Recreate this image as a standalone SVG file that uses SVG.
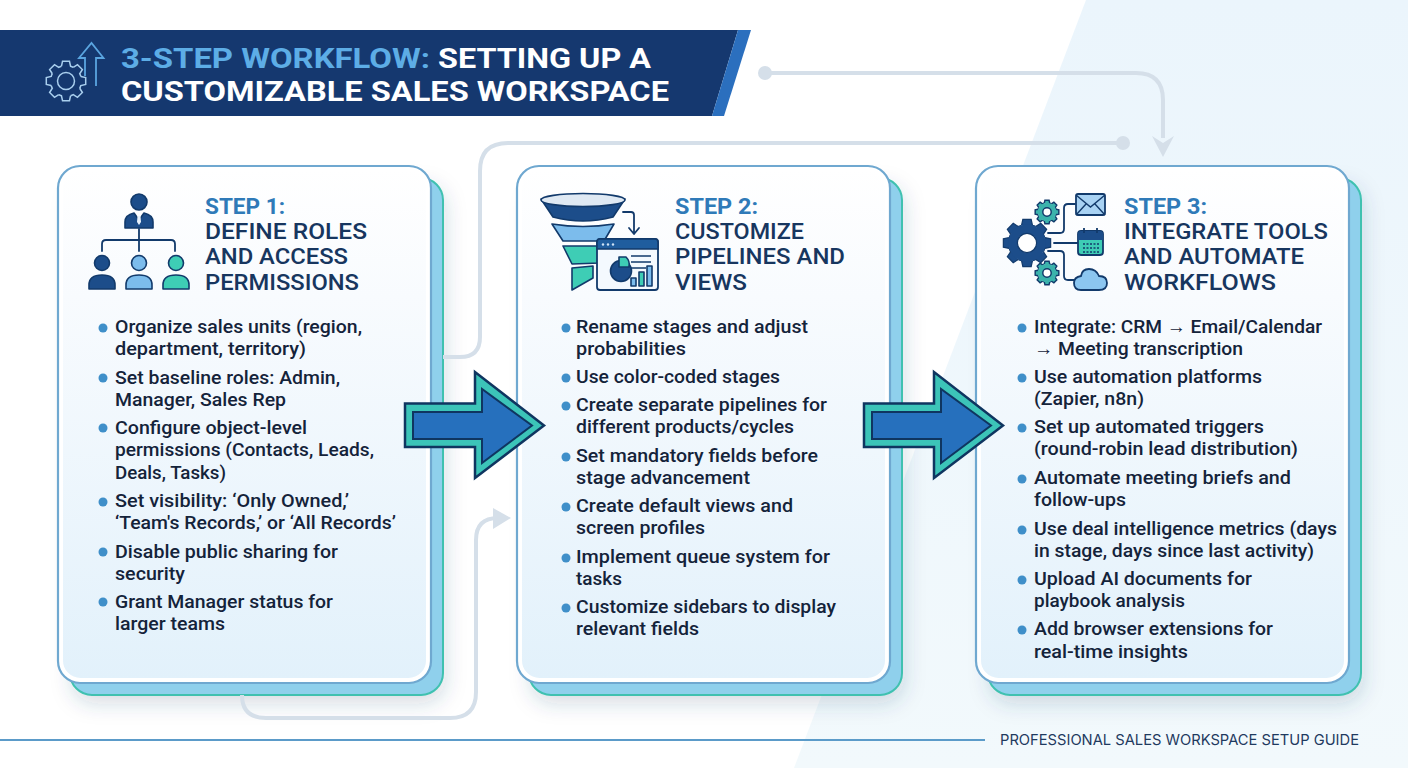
<svg xmlns="http://www.w3.org/2000/svg" xmlns:xlink="http://www.w3.org/1999/xlink" width="1408" height="768" viewBox="0 0 1408 768">
<style>
.b{font-family:Roboto,"Liberation Sans",sans-serif;font-size:18.7px;font-weight:500;fill:#14233a}
.st{font-family:Roboto,"Liberation Sans",sans-serif;font-size:22.5px;font-weight:700;fill:#2f7ab8}
.tt{font-weight:500;fill:#17365f}
.hd{font-family:Roboto,"Liberation Sans",sans-serif;font-size:28px;font-weight:700}
.ft{font-family:Inter,"Liberation Sans",sans-serif;font-size:14.5px;font-weight:400;fill:#1f3a5f}
.dot{fill:#3f8fc9}
.back{fill:#8fd0ec;stroke:#3fc1b0;stroke-width:2;filter:url(#sh)}
.card{fill:url(#cg);stroke:#fff;stroke-width:5}
.edge{fill:none;stroke:#6fa8d0;stroke-width:2.2}
.cn{fill:none;stroke:#d5dfe9;stroke-width:4}
.cf{fill:#d5dfe9}
.ao{fill:#3cc4b8;stroke:#0f3560;stroke-width:2.5;stroke-linejoin:miter}
.ai{fill:#2670bd;stroke:#0f3560;stroke-width:2}
.ink{stroke:#123a6b;stroke-width:1.6;stroke-linejoin:round}
.nv{fill:#1c4d8a}.lb{fill:#7cbcec}.tl{fill:#3ecdb5}
.ln{fill:none;stroke:#123a6b;stroke-width:1.8;stroke-linecap:round;stroke-linejoin:round}
</style>
<defs>
<linearGradient id="cg" x1="0" y1="0" x2="0" y2="1"><stop offset="0" stop-color="#ffffff"/><stop offset="0.25" stop-color="#f8fbfe"/><stop offset="1" stop-color="#e2f1fb"/></linearGradient>
<linearGradient id="bgp" x1="0" y1="0" x2="0" y2="1"><stop offset="0" stop-color="#ebf5fc"/><stop offset="1" stop-color="#f2f9fc"/></linearGradient>
<filter id="sh" x="-15%" y="-10%" width="130%" height="120%"><feDropShadow dx="2" dy="8" stdDeviation="10" flood-color="#2a4a6a" flood-opacity="0.18"/></filter>
<path id="tooth" d="M14.82 -4.53L19.7 -3.47L19.7 3.47L14.82 4.53A15.5 15.5 0 0 1 13.69 7.28"/>
<g id="gear"><use xlink:href="#tooth"/><use xlink:href="#tooth" transform="rotate(45)"/><use xlink:href="#tooth" transform="rotate(90)"/><use xlink:href="#tooth" transform="rotate(135)"/><use xlink:href="#tooth" transform="rotate(180)"/><use xlink:href="#tooth" transform="rotate(225)"/><use xlink:href="#tooth" transform="rotate(270)"/><use xlink:href="#tooth" transform="rotate(315)"/></g>
</defs>

<rect width="1408" height="768" fill="#ffffff"/>
<polygon points="1086,0 1408,0 1408,768 794,768" fill="url(#bgp)"/>

<g id="header">
<polygon points="0,30 738,30 712,116 0,116" fill="#15386f"/>
<polygon points="738,30 751,30 724,116 712,116" fill="#2b6fbe"/>
<g transform="translate(66 81)" fill="none" stroke="#a9cfee" stroke-width="1.5"><use xlink:href="#gear"/><circle r="8.5"/></g>
<path d="M85 76V58H79L91.5 43L103.5 58H96V86" fill="none" stroke="#5aa5e0" stroke-width="1.8"/>
<text class="hd"><tspan x="121" y="67.500" fill="#5dade6" textLength="309" lengthAdjust="spacingAndGlyphs">3-STEP WORKFLOW:</tspan> <tspan x="438" y="67.500" fill="#ffffff" textLength="213" lengthAdjust="spacingAndGlyphs">SETTING UP A</tspan> <tspan x="121" y="100.500" fill="#ffffff" textLength="548" lengthAdjust="spacingAndGlyphs">CUSTOMIZABLE SALES WORKSPACE</tspan></text>
</g>

<g id="step-1">
<rect class="back" x="70" y="178" width="373" height="517" rx="22"/>
<rect class="card" x="60.5" y="168.5" width="368" height="512" rx="20"/>
<rect class="edge" x="58" y="166" width="373" height="517" rx="22"/>
<g id="icon-roles">
<path class="ln" d="M139 229V251M102 251V244Q102 240 106 240H171Q175 240 175 244V251"/>
<circle class="nv ink" cx="139" cy="202" r="8"/>
<path class="nv ink" d="M125 228V222Q125 215 134 213L139 220L144 213Q153 215 153 222V228Z"/>
<path d="M137.500 216H140.500L141 222L139 225L137 222Z" fill="#e8f2fb"/>
<circle class="nv ink" cx="102" cy="263" r="7.5"/><path class="nv ink" d="M89 289V285Q89 275 102 275Q115 275 115 285V289Z"/>
<circle class="lb ink" cx="139" cy="263" r="7.5"/><path class="lb ink" d="M126 289V285Q126 275 139 275Q152 275 152 285V289Z"/>
<circle class="tl ink" cx="176" cy="263" r="7.5"/><path class="tl ink" d="M163 289V285Q163 275 176 275Q189 275 189 285V289Z"/>
</g>
<text class="st"><tspan x="205" y="214" textLength="80" lengthAdjust="spacingAndGlyphs">STEP 1:</tspan> <tspan class="tt" x="205" y="239" textLength="162" lengthAdjust="spacingAndGlyphs">DEFINE ROLES</tspan> <tspan class="tt" x="205" y="264" textLength="143" lengthAdjust="spacingAndGlyphs">AND ACCESS</tspan> <tspan class="tt" x="205" y="290" textLength="154" lengthAdjust="spacingAndGlyphs">PERMISSIONS</tspan></text>
<circle class="dot" cx="103" cy="328" r="4.5"/><circle class="dot" cx="103" cy="378" r="4.5"/><circle class="dot" cx="103" cy="428" r="4.5"/><circle class="dot" cx="103" cy="502" r="4.5"/><circle class="dot" cx="103" cy="552" r="4.5"/><circle class="dot" cx="103" cy="602" r="4.5"/>
<text class="b"><tspan x="115" y="333" textLength="247" lengthAdjust="spacingAndGlyphs">Organize sales units (region,</tspan> <tspan x="115" y="355" textLength="191" lengthAdjust="spacingAndGlyphs">department, territory)</tspan></text>
<text class="b"><tspan x="115" y="384" textLength="225" lengthAdjust="spacingAndGlyphs">Set baseline roles: Admin,</tspan> <tspan x="115" y="406" textLength="171" lengthAdjust="spacingAndGlyphs">Manager, Sales Rep</tspan></text>
<text class="b"><tspan x="115" y="434" textLength="192" lengthAdjust="spacingAndGlyphs">Configure object-level</tspan> <tspan x="115" y="456" textLength="259" lengthAdjust="spacingAndGlyphs">permissions (Contacts, Leads,</tspan> <tspan x="115" y="479" textLength="111" lengthAdjust="spacingAndGlyphs">Deals, Tasks)</tspan></text>
<text class="b"><tspan x="115" y="507" textLength="234" lengthAdjust="spacingAndGlyphs">Set visibility: ‘Only Owned,’</tspan> <tspan x="115" y="529" textLength="281" lengthAdjust="spacingAndGlyphs">‘Team's Records,’ or ‘All Records’</tspan></text>
<text class="b"><tspan x="115" y="558" textLength="223" lengthAdjust="spacingAndGlyphs">Disable public sharing for</tspan> <tspan x="115" y="580" textLength="70" lengthAdjust="spacingAndGlyphs">security</tspan></text>
<text class="b"><tspan x="115" y="608" textLength="218" lengthAdjust="spacingAndGlyphs">Grant Manager status for</tspan> <tspan x="115" y="630" textLength="110" lengthAdjust="spacingAndGlyphs">larger teams</tspan></text>
</g>

<g id="step-2">
<rect class="back" x="529" y="178" width="373" height="517" rx="22"/>
<rect class="card" x="519.5" y="168.5" width="368" height="512" rx="20"/>
<rect class="edge" x="517" y="166" width="373" height="517" rx="22"/>
<g id="icon-funnel">
<path class="nv ink" d="M541 199L553 217Q583 225 613 217L625 199Z"/>
<ellipse cx="583" cy="200" rx="42" ry="6.5" fill="#dfe9f3" stroke="#123a6b" stroke-width="1.6"/>
<path class="lb ink" d="M552 224Q583 229 614 224L604 241H563Z"/>
<path class="tl ink" d="M563 246H600V263L572 264Z"/>
<path class="tl ink" d="M572 268L593 266V278L572 290Z"/>
<path class="ln" d="M623 212H631Q634 212 634 215V233M629 228L634 234L639 228"/>
<rect x="597" y="239" width="61" height="51" rx="3" fill="#f4f9fe" stroke="#123a6b" stroke-width="1.8"/>
<path d="M597 249V242Q597 239 600 239H655Q658 239 658 242V249Z" fill="#1f5d9e" stroke="#123a6b" stroke-width="1.6"/>
<circle cx="603" cy="244.500" r="1.200" fill="#cfe4f7"/><circle cx="608" cy="244.500" r="1.200" fill="#cfe4f7"/><circle cx="613" cy="244.500" r="1.200" fill="#cfe4f7"/>
<circle class="nv ink" cx="621" cy="271" r="10.500"/>
<path class="tl ink" d="M624 257A11 11 0 0 1 627 267H617V257Z" transform="translate(2 0)"/>
<path d="M631 256H651M631 262H651M631 268H646" fill="none" stroke="#123a6b" stroke-width="1.300"/>
<rect class="lb ink" x="631" y="278" width="5" height="8"/><rect class="tl ink" x="639" y="272" width="5" height="14"/><rect class="lb ink" x="647" y="266" width="5" height="20"/>
</g>
<text class="st"><tspan x="675" y="214" textLength="83" lengthAdjust="spacingAndGlyphs">STEP 2:</tspan> <tspan class="tt" x="675" y="239" textLength="129" lengthAdjust="spacingAndGlyphs">CUSTOMIZE</tspan> <tspan class="tt" x="675" y="264" textLength="170" lengthAdjust="spacingAndGlyphs">PIPELINES AND</tspan> <tspan class="tt" x="675" y="290" textLength="72" lengthAdjust="spacingAndGlyphs">VIEWS</tspan></text>
<circle class="dot" cx="566" cy="328" r="4.5"/><circle class="dot" cx="566" cy="378" r="4.5"/><circle class="dot" cx="566" cy="406" r="4.5"/><circle class="dot" cx="566" cy="457" r="4.5"/><circle class="dot" cx="566" cy="507" r="4.5"/><circle class="dot" cx="566" cy="558" r="4.5"/><circle class="dot" cx="566" cy="608" r="4.5"/>
<text class="b"><tspan x="576" y="333" textLength="232" lengthAdjust="spacingAndGlyphs">Rename stages and adjust</tspan> <tspan x="576" y="355" textLength="110" lengthAdjust="spacingAndGlyphs">probabilities</tspan></text>
<text class="b" x="576" y="383" textLength="204" lengthAdjust="spacingAndGlyphs">Use color-coded stages</text>
<text class="b"><tspan x="576" y="411" textLength="251" lengthAdjust="spacingAndGlyphs">Create separate pipelines for</tspan> <tspan x="576" y="433" textLength="218" lengthAdjust="spacingAndGlyphs">different products/cycles</tspan></text>
<text class="b"><tspan x="576" y="462" textLength="242" lengthAdjust="spacingAndGlyphs">Set mandatory fields before</tspan> <tspan x="576" y="484" textLength="174" lengthAdjust="spacingAndGlyphs">stage advancement</tspan></text>
<text class="b"><tspan x="576" y="512" textLength="217" lengthAdjust="spacingAndGlyphs">Create default views and</tspan> <tspan x="576" y="534" textLength="129" lengthAdjust="spacingAndGlyphs">screen profiles</tspan></text>
<text class="b"><tspan x="576" y="563" textLength="254" lengthAdjust="spacingAndGlyphs">Implement queue system for</tspan> <tspan x="576" y="585" textLength="46" lengthAdjust="spacingAndGlyphs">tasks</tspan></text>
<text class="b"><tspan x="576" y="613" textLength="260" lengthAdjust="spacingAndGlyphs">Customize sidebars to display</tspan> <tspan x="576" y="635" textLength="123" lengthAdjust="spacingAndGlyphs">relevant fields</tspan></text>
</g>

<g id="step-3">
<rect class="back" x="988" y="178" width="373" height="517" rx="22"/>
<rect class="card" x="978.5" y="168.5" width="368" height="512" rx="20"/>
<rect class="edge" x="976" y="166" width="373" height="517" rx="22"/>
<g id="icon-integrate">
<path class="ln" d="M1048 233H1060Q1064 233 1064 229V208Q1064 204 1068 204H1075M1054 243H1078M1048 251H1060Q1064 251 1064 255V276Q1064 280 1068 280H1074"/>
<g transform="translate(1027 243) scale(1.2)" fill="#1c4d8a" stroke="#123a6b" stroke-width="1"><use xlink:href="#gear"/><circle r="15.500" stroke="none"/><circle r="8" fill="#ffffff" stroke="#123a6b"/></g>
<g transform="translate(1047 212) scale(0.6)" fill="#3bb3ac" stroke="#123a6b" stroke-width="2.400"><use xlink:href="#gear"/><circle r="15.500" stroke="none"/><circle r="7" fill="#ffffff"/></g>
<g transform="translate(1047 273) scale(0.6)" fill="#3bb3ac" stroke="#123a6b" stroke-width="2.400"><use xlink:href="#gear"/><circle r="15.500" stroke="none"/><circle r="7" fill="#ffffff"/></g>
<rect x="1076" y="194" width="29" height="21" rx="2" fill="#a8d2f3" stroke="#123a6b" stroke-width="1.800"/>
<path d="M1076 195L1090.500 207L1105 195M1076 215L1086 204M1105 215L1095 204" fill="none" stroke="#123a6b" stroke-width="1.400"/>
<rect x="1078" y="231" width="25" height="24" rx="3" fill="#3ecdb5" stroke="#123a6b" stroke-width="1.800"/>
<path d="M1078 240V234Q1078 231 1081 231H1100Q1103 231 1103 234V240Z" fill="#1c4d8a"/>
<path d="M1084 228V233M1097 228V233" stroke="#123a6b" stroke-width="1.800" fill="none"/>
<path d="M1083 244H1099M1083 248H1099M1083 252H1099" stroke="#123a6b" stroke-width="1.500" stroke-dasharray="2 1.500" fill="none"/>
<path d="M1081 290H1099Q1107 290 1107 283Q1107 276 1099 276Q1096 269 1089 269Q1082 269 1081 276Q1074 277 1074 283Q1074 290 1081 290Z" fill="#8cc6f0" stroke="#123a6b" stroke-width="1.800"/>
</g>
<text class="st"><tspan x="1124" y="214" textLength="83" lengthAdjust="spacingAndGlyphs">STEP 3:</tspan> <tspan class="tt" x="1124" y="239" textLength="204" lengthAdjust="spacingAndGlyphs">INTEGRATE TOOLS</tspan> <tspan class="tt" x="1124" y="264" textLength="180" lengthAdjust="spacingAndGlyphs">AND AUTOMATE</tspan> <tspan class="tt" x="1124" y="290" textLength="152" lengthAdjust="spacingAndGlyphs">WORKFLOWS</tspan></text>
<circle class="dot" cx="1022" cy="328" r="4.5"/><circle class="dot" cx="1022" cy="378" r="4.5"/><circle class="dot" cx="1022" cy="428" r="4.5"/><circle class="dot" cx="1022" cy="479" r="4.5"/><circle class="dot" cx="1022" cy="530" r="4.5"/><circle class="dot" cx="1022" cy="580" r="4.5"/><circle class="dot" cx="1022" cy="630" r="4.5"/>
<text class="b"><tspan x="1034" y="333" textLength="288" lengthAdjust="spacingAndGlyphs">Integrate: CRM → Email/Calendar</tspan> <tspan x="1034" y="355" textLength="209" lengthAdjust="spacingAndGlyphs">→ Meeting transcription</tspan></text>
<text class="b"><tspan x="1034" y="383" textLength="228" lengthAdjust="spacingAndGlyphs">Use automation platforms</tspan> <tspan x="1034" y="405" textLength="110" lengthAdjust="spacingAndGlyphs">(Zapier, n8n)</tspan></text>
<text class="b"><tspan x="1034" y="433" textLength="230" lengthAdjust="spacingAndGlyphs">Set up automated triggers</tspan> <tspan x="1034" y="455" textLength="264" lengthAdjust="spacingAndGlyphs">(round-robin lead distribution)</tspan></text>
<text class="b"><tspan x="1034" y="484" textLength="257" lengthAdjust="spacingAndGlyphs">Automate meeting briefs and</tspan> <tspan x="1034" y="506" textLength="92" lengthAdjust="spacingAndGlyphs">follow-ups</tspan></text>
<text class="b"><tspan x="1034" y="535" textLength="303" lengthAdjust="spacingAndGlyphs">Use deal intelligence metrics (days</tspan> <tspan x="1034" y="557" textLength="280" lengthAdjust="spacingAndGlyphs">in stage, days since last activity)</tspan></text>
<text class="b"><tspan x="1034" y="585" textLength="218" lengthAdjust="spacingAndGlyphs">Upload AI documents for</tspan> <tspan x="1034" y="607" textLength="151" lengthAdjust="spacingAndGlyphs">playbook analysis</tspan></text>
<text class="b"><tspan x="1034" y="635" textLength="239" lengthAdjust="spacingAndGlyphs">Add browser extensions for</tspan> <tspan x="1034" y="658" textLength="154" lengthAdjust="spacingAndGlyphs">real-time insights</tspan></text>
</g>

<g id="connectors">
<circle class="cf" cx="765" cy="73" r="7"/>
<path class="cn" d="M765 73H1136Q1163 73 1163 100V138"/>
<polygon class="cf" points="1152,136 1163,143 1174,136 1163,157"/>
<circle class="cf" cx="1123" cy="143" r="7"/>
<path class="cn" d="M1123 143H508Q480 143 480 171V337Q480 357 460 357H443"/>
<path class="cn" d="M242 695Q242 718 266 718H450Q476 718 476 692V540Q476 518 498 518"/>
<polygon class="cf" points="493,508 511,518 493,529"/>
<g id="arrow-1-2"><polygon class="ao" points="405,403.500 475,403.500 475,372 544,425.500 475,478 475,447 405,447"/><polygon class="ai" points="413,412 482,412 482,389 532,425.500 482,463 482,439 413,439"/></g>
<g id="arrow-2-3"><polygon class="ao" points="864,403.500 934,403.500 934,372 1003,425.500 934,478 934,447 864,447"/><polygon class="ai" points="872,412 941,412 941,389 991,425.500 941,463 941,439 872,439"/></g>
</g>

<g id="footer">
<rect x="0" y="739" width="985" height="2" fill="#5b9bc9"/>
<text class="ft" x="1000" y="745" textLength="359" lengthAdjust="spacingAndGlyphs">PROFESSIONAL SALES WORKSPACE SETUP GUIDE</text>
</g>
</svg>
